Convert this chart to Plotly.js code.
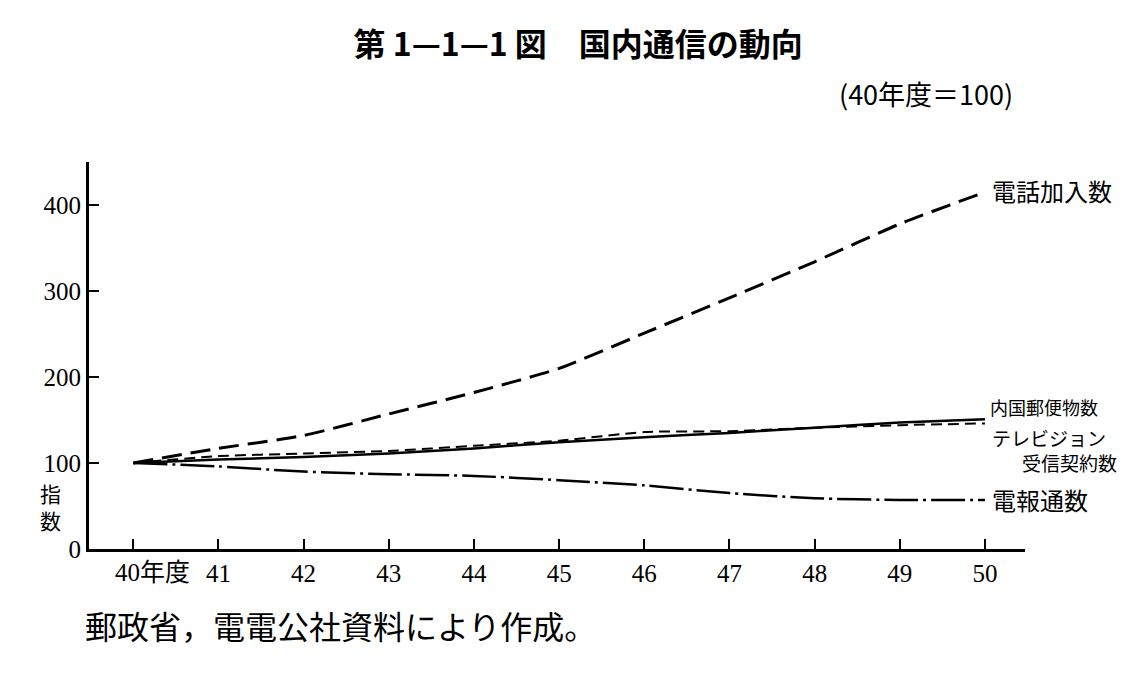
<!DOCTYPE html>
<html>
<head>
<meta charset="utf-8">
<script src="https://cdn.plot.ly/plotly-3.0.1.min.js"></script>
<style>html,body{margin:0;padding:0;background:#fff;}#chart{width:1145px;height:691px;}</style>
</head>
<body>
<div id="chart"></div>
<script>
// Fiscal years (Showa 40 = 100)
const years = [40, 41, 42, 43, 44, 45, 46, 47, 48, 49, 50];
const tickLabels = ["", "41", "42", "43", "44", "45", "46", "47", "48", "49", "50"];
const firstTickLabel = "40年度";
const yTicks = [0, 100, 200, 300, 400];

const phoneSubscribers = [100, 117, 132, 157, 182, 210, 251, 292, 334, 378, 415];   // 電話加入数
const domesticMail     = [100, 104, 107, 111, 117, 124, 130, 135, 141, 147, 151];   // 内国郵便物数
const tvContracts      = [100, 108, 111, 114, 120, 126, 136, 137, 141, 144, 146];   // テレビジョン受信契約数
const telegrams        = [100,  96,  90,  87,  85,  80,  74,  65,  59,  57,  57];   // 電報通数

const JP = '"Noto Sans CJK JP", sans-serif';
const NUM = '"Liberation Serif", "Noto Sans CJK JP", serif';

const traces = [
  {x: years, y: phoneSubscribers, mode: 'lines', line: {color: '#000', width: 3, dash: '20px,9px', shape: 'spline', smoothing: 0.6}, name: '電話加入数'},
  {x: years, y: tvContracts, mode: 'lines', line: {color: '#000', width: 2, dash: '11px,6px', shape: 'spline', smoothing: 0.6}, name: 'テレビジョン受信契約数'},
  {x: years, y: domesticMail, mode: 'lines', line: {color: '#000', width: 2.5, shape: 'spline', smoothing: 0.6}, name: '内国郵便物数'},
  {x: years, y: telegrams, mode: 'lines', line: {color: '#000', width: 2.5, dash: '34px,5px,3px,5px', shape: 'spline', smoothing: 0.6}, name: '電報通数'}
];

const ann = (text, x, y, opts) => Object.assign({text: text, x: x, y: y, showarrow: false, font: {family: JP, size: 20, color: '#000'}}, opts || {});

const layout = {
  width: 1145, height: 691,
  paper_bgcolor: '#fff', plot_bgcolor: '#fff',
  margin: {l: 89, r: 120, t: 162, b: 142},
  showlegend: false,
  title: {text: '<b>第 1—1—1 図　国内通信の動向</b>', font: {family: JP, size: 32, color: '#000'}, x: 0.505, xanchor: 'center', y: 0.935, yanchor: 'middle'},
  xaxis: {
    range: [39.48, 50.47], tickmode: 'array', tickvals: years, ticktext: tickLabels,
    showgrid: false, zeroline: false, showline: true, linecolor: '#000', linewidth: 3,
    ticks: 'inside', ticklen: 10, tickwidth: 2, tickcolor: '#000',
    tickfont: {family: NUM, size: 25, color: '#000'}
  },
  yaxis: {
    range: [0, 450], tickmode: 'array', tickvals: yTicks,
    showgrid: false, zeroline: false, showline: true, linecolor: '#000', linewidth: 3,
    ticks: 'inside', ticklen: 10, tickwidth: 2, tickcolor: '#000',
    tickfont: {family: NUM, size: 25, color: '#000'}
  },
  annotations: [
    ann('(40年度＝100)', 0.894, 1.178, {xref: 'paper', yref: 'paper', xanchor: 'center', yanchor: 'middle', font: {family: JP, size: 27, color: '#000'}}),
    ann('郵政省，電電公社資料により作成。', -0.006, -0.196, {xref: 'paper', yref: 'paper', xanchor: 'left', yanchor: 'middle', font: {family: JP, size: 32, color: '#000'}}),
    ann('指<br>数', -0.055, 49, {xref: 'paper', yref: 'y', font: {family: JP, size: 21, color: '#000'}}),
    ann(firstTickLabel, 40, 0, {xref: 'x', yref: 'y', xanchor: 'left', yanchor: 'top', xshift: -20, yshift: -8, font: {family: NUM, size: 25, color: '#000'}}),
    ann('電話加入数', 50, 417, {xref: 'x', yref: 'y', xanchor: 'left', xshift: 5, font: {family: JP, size: 24, color: '#000'}}),
    ann('内国郵便物数', 50, 165, {xref: 'x', yref: 'y', xanchor: 'left', xshift: 3, font: {family: JP, size: 18, color: '#000'}}),
    ann('テレビジョン', 50, 130, {xref: 'x', yref: 'y', xanchor: 'left', xshift: 5, font: {family: JP, size: 19, color: '#000'}}),
    ann('受信契約数', 50, 101, {xref: 'x', yref: 'y', xanchor: 'left', xshift: 35, font: {family: JP, size: 19, color: '#000'}}),
    ann('電報通数', 50, 57, {xref: 'x', yref: 'y', xanchor: 'left', xshift: 5, font: {family: JP, size: 24, color: '#000'}})
  ]
};

Plotly.newPlot('chart', traces, layout, {staticPlot: true, displayModeBar: false});
</script>
</body>
</html>
